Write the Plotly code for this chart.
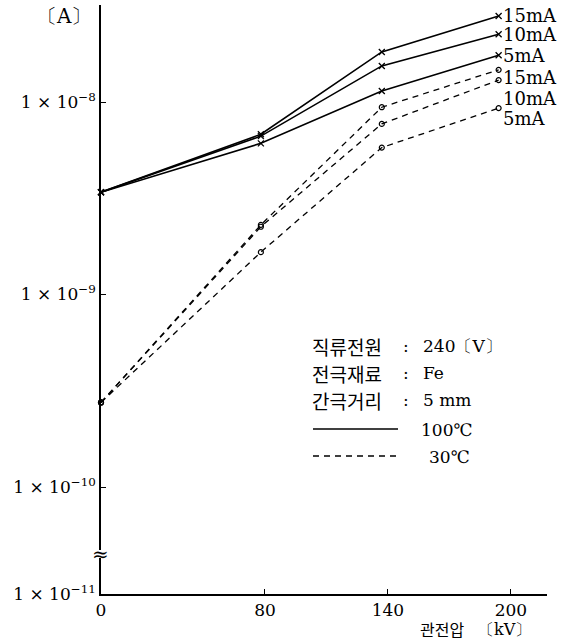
import math
import plotly.graph_objects as go

# ---- data ----
x_kv = [0, 78, 137, 194]
solid_15 = [3.4e-9, 6.8e-9, 1.82e-8, 2.80e-8]
solid_10 = [3.4e-9, 6.65e-9, 1.54e-8, 2.25e-8]
solid_5 = [3.4e-9, 6.1e-9, 1.14e-8, 1.75e-8]
dash_15 = [2.75e-10, 2.3e-9, 9.4e-9, 1.47e-8]
dash_10 = [2.75e-10, 2.25e-9, 7.7e-9, 1.30e-8]
dash_5 = [2.75e-10, 1.66e-9, 5.8e-9, 9.3e-9]

solid_labels = ["15mA", "10mA", "5mA"]
dash_labels = ["15mA", "10mA", "5mA"]

x_ticks = [0, 80, 140, 200]
y_ticks_main = [1e-10, 1e-9, 1e-8]
y_ticktext_main = ["1 × 10<sup>−10</sup>", "1 × 10<sup>−9</sup>", "1 × 10<sup>−8</sup>"]
y_ticks_low = [1e-11]
y_ticktext_low = ["1 × 10<sup>−11</sup>"]

cond_names = ["직류전원", "전극재료", "간극거리"]
cond_values = ["240〔V〕", "Fe", "5 mm"]
temp_labels = ["100℃", "30℃"]

SERIF = "DejaVu Serif"
KR = "Noto Sans CJK KR"

W, H = 571, 640
L, R, T, B = 101, 24, 5, 46
pw, ph = W - L - R, H - T - B


def px_x(p):
    return (p - L) / pw


def px_y(p):
    return (H - B - p) / ph


fig = go.Figure()

for ys in [solid_15, solid_10, solid_5]:
    fig.add_trace(go.Scatter(
        x=x_kv, y=ys, mode="lines+markers",
        line=dict(color="black", width=1.6),
        marker=dict(symbol="x-thin-open", size=6, color="black",
                    line=dict(width=1.3, color="black")),
        showlegend=False, xaxis="x", yaxis="y", cliponaxis=False))

for ys in [dash_15, dash_10, dash_5]:
    fig.add_trace(go.Scatter(
        x=x_kv, y=ys, mode="lines+markers",
        line=dict(color="black", width=1.3, dash="6px,5px"),
        marker=dict(symbol="circle-open", size=5, color="black",
                    line=dict(width=1.2, color="black")),
        showlegend=False, xaxis="x", yaxis="y", cliponaxis=False))

# empty trace so that the lower (broken) axis segment is drawn
fig.add_trace(go.Scatter(x=[None], y=[None], mode="lines", showlegend=False,
                         hoverinfo="skip", xaxis="x", yaxis="y2"))

annotations = []
label_shifts = [0, 0, 0, -8, -18, -10]
for name, ys, dy in zip(solid_labels + dash_labels,
                        [solid_15, solid_10, solid_5, dash_15, dash_10, dash_5],
                        label_shifts):
    annotations.append(dict(
        x=x_kv[-1], y=math.log10(ys[-1]), xref="x", yref="y",
        text=name, showarrow=False, xanchor="left", yanchor="middle",
        xshift=2, yshift=dy, font=dict(family=SERIF, size=18, color="black")))


def pa(x, y, text, font, size, xanchor="left"):
    annotations.append(dict(x=px_x(x), y=px_y(y), xref="paper", yref="paper",
                            text=text, showarrow=False, xanchor=xanchor,
                            yanchor="middle", borderpad=0,
                            font=dict(family=font, size=size, color="black")))


# axis unit label and axis title
pa(92, 16, "〔A〕", SERIF, 20, xanchor="right")
pa(419, 629, "관전압", KR, 16)
pa(532, 629, "〔kV〕", SERIF, 16, xanchor="right")

# conditions text
for i, (n, v) in enumerate(zip(cond_names, cond_values)):
    y = 346 + 27 * i
    pa(311, y, n, KR, 19)
    pa(406, y, ":", SERIF, 17, xanchor="center")
    pa(422, y, v, SERIF, 17)

pa(420, 430, temp_labels[0], SERIF, 17)
pa(428, 457, temp_labels[1], SERIF, 17)

# axis break mark
pa(100, 554, "≈", SERIF, 20, xanchor="center")

shapes = [
    dict(type="line", xref="paper", yref="paper", x0=px_x(313), x1=px_x(398),
         y0=px_y(429), y1=px_y(429), line=dict(color="black", width=1.6)),
    dict(type="line", xref="paper", yref="paper", x0=px_x(313), x1=px_x(398),
         y0=px_y(456), y1=px_y(456), line=dict(color="black", width=1.3, dash="6px,5px")),
]

main_bottom = px_y(550)
low_top = px_y(558)

axis_common = dict(ticks="inside", ticklen=5, tickwidth=1.2, tickcolor="black",
                   showline=True, linecolor="black", linewidth=1.5,
                   showgrid=False, zeroline=False,
                   tickfont=dict(family=SERIF, size=17, color="black"))

fig.update_layout(
    width=W, height=H,
    margin=dict(l=L, r=R, t=T, b=B),
    paper_bgcolor="white", plot_bgcolor="white",
    font=dict(family=SERIF, color="black"),
    xaxis=dict(range=[0, 217.6], anchor="y2", tickvals=x_ticks, **axis_common),
    yaxis=dict(type="log", range=[-10.327, -7.496], domain=[main_bottom, 1],
               anchor="x", tickvals=y_ticks_main, ticktext=y_ticktext_main,
               **axis_common),
    yaxis2=dict(type="log", range=[-11, -10.813], domain=[0, low_top],
                anchor="x", tickvals=y_ticks_low, ticktext=y_ticktext_low,
                **axis_common),
    annotations=annotations,
    shapes=shapes,
)

fig.write_html("out.html")
